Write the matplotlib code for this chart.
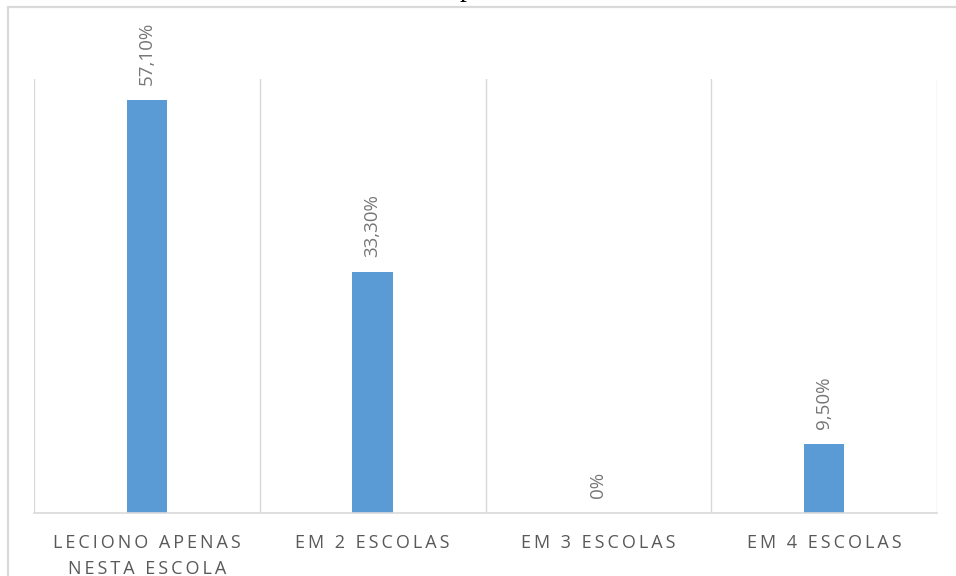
import matplotlib.pyplot as plt
from matplotlib.patches import Rectangle

categorias = ['LECIONO APENAS\nNESTA ESCOLA', 'EM 2 ESCOLAS', 'EM 3 ESCOLAS', 'EM 4 ESCOLAS']
valores = [57.1, 33.3, 0.0, 9.5]
rotulos = ['57,10%', '33,30%', '0%', '9,50%']

FONTE = ['Open Sans', 'DejaVu Sans']


def espacado(texto):
    # wide letter tracking: thin space between every character of each line
    return '\n'.join('\u2009'.join(linha) for linha in texto.split('\n'))


W, H = 956, 576
fig = plt.figure(figsize=(W / 100, H / 100), dpi=100)

# chart area border (runs off the right and bottom edges)
fig.patches.append(Rectangle((8 / W, -0.05), 1.1, 1 - 7 / H + 0.05, transform=fig.transFigure,
                             fill=False, edgecolor='#d9d9d9', linewidth=1.6, zorder=0))

# caption fragments cut by the top edge
fig.text(160 / W, 1 + 10 / H, 'Q', family='Liberation Serif', fontsize=20, color='black',
         ha='left', va='center')
fig.text(460 / W, 1 + 10 / H, 'p', family='Liberation Serif', fontsize=20, color='black',
         ha='left', va='center')

ax = fig.add_axes([34 / W, 1 - 513 / H, (937 - 34) / W, (513 - 79) / H])
x = range(len(categorias))
ax.bar(x, valores, width=0.18, color='#5b9bd5', zorder=2)
ax.set_xlim(-0.5, len(categorias) - 0.5)
ax.set_ylim(0, 60)

# vertical separators between categories
for b in [i - 0.5 for i in range(len(categorias) + 1)]:
    ax.axvline(b, color='#d9d9d9', linewidth=1, zorder=1)

for s in ['top', 'right', 'left']:
    ax.spines[s].set_visible(False)
ax.spines['bottom'].set_color('#d9d9d9')
ax.spines['bottom'].set_linewidth(1.2)
ax.set_yticks([])
ax.set_xticks(list(x))
ax.set_xticklabels([espacado(c) for c in categorias], fontsize=13, color='#595959',
                   family=FONTE, linespacing=1.55)
ax.tick_params(axis='x', length=0, pad=15)

for i, (v, t) in enumerate(zip(valores, rotulos)):
    ax.annotate(t, (i, v), xytext=(0, 11), textcoords='offset points', rotation=90,
                ha='center', va='bottom', fontsize=13.5, color='#767676', family=FONTE)

fig.savefig('out.png', dpi=100)
